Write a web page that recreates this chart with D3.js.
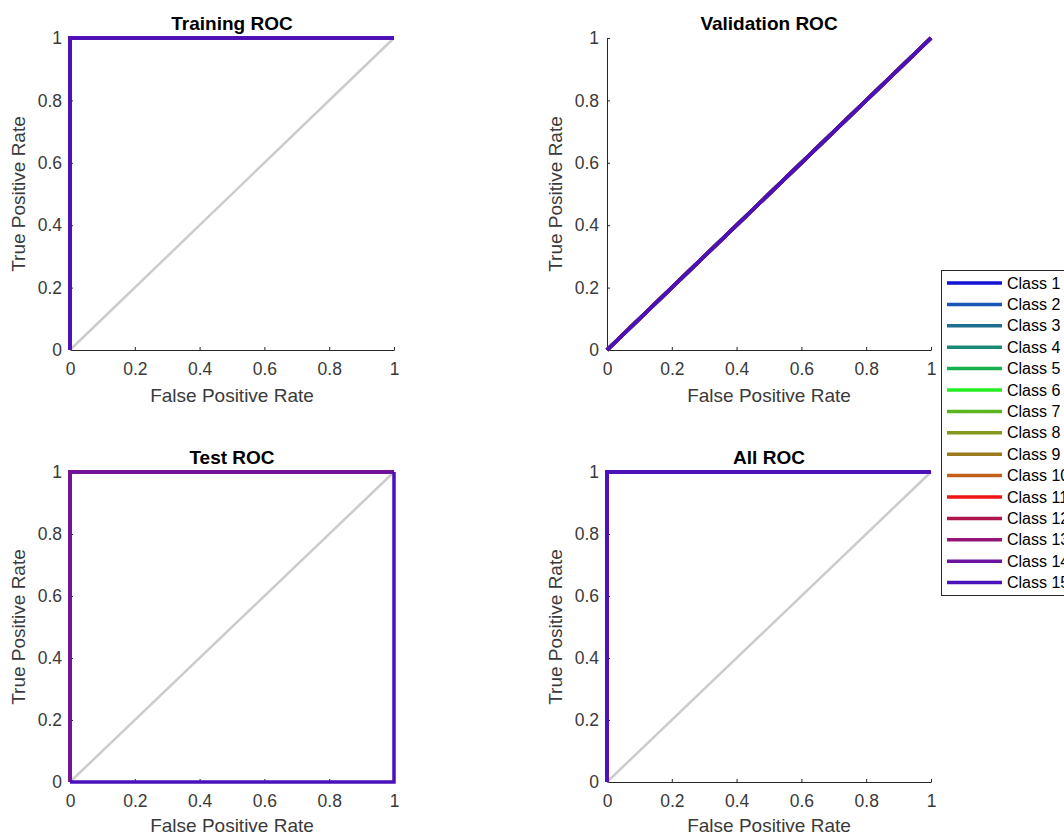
<!DOCTYPE html>
<html>
<head>
<meta charset="utf-8">
<script src="https://cdn.jsdelivr.net/npm/d3@7"></script>
<style>
  body { margin: 0; background: #fff; overflow: hidden; }
  text { font-family: "Liberation Sans", Arial, sans-serif; }
</style>
</head>
<body>
<div id="container"></div>
<script>
// Data
const classNames = ["Class 1", "Class 2", "Class 3", "Class 4", "Class 5", "Class 6", "Class 7", "Class 8",
  "Class 9", "Class 10", "Class 11", "Class 12", "Class 13", "Class 14", "Class 15"];
const classColors = ["#1212d6", "#1a56b6", "#1c6f8e", "#1a8a74", "#16b04c", "#22ee22", "#5cb41e", "#86981c",
  "#9a7a1a", "#c0601a", "#f01414", "#b0144e", "#941478", "#6c14a0", "#4a12bc"];
const panelTitles = ["Training ROC", "Validation ROC", "Test ROC", "All ROC"];
const tickValues = [0, 0.2, 0.4, 0.6, 0.8, 1];

// ROC curve shapes (FPR / TPR points)
const perfectFpr = [0, 0, 1];
const perfectTpr = [0, 1, 1];
const chanceFpr = [0, 1];
const chanceTpr = [0, 1];
const inverseFpr = [0, 1, 1];
const inverseTpr = [0, 0, 1];

// curve per class, one list per panel
const trainingCurves = ["perfect", "perfect", "perfect", "perfect", "perfect", "perfect", "perfect", "perfect",
  "perfect", "perfect", "perfect", "perfect", "perfect", "perfect", "perfect"];
const validationCurves = ["chance", "chance", "chance", "chance", "chance", "chance", "chance", "chance",
  "chance", "chance", "chance", "chance", "chance", "chance", "chance"];
const testCurves = ["perfect", "perfect", "perfect", "perfect", "perfect", "perfect", "perfect", "perfect",
  "perfect", "perfect", "perfect", "perfect", "perfect", "perfect", "inverse"];
const allCurves = ["perfect", "perfect", "perfect", "perfect", "perfect", "perfect", "perfect", "perfect",
  "perfect", "perfect", "perfect", "perfect", "perfect", "perfect", "perfect"];

const shapes = {
  perfect: [perfectFpr, perfectTpr],
  chance: [chanceFpr, chanceTpr],
  inverse: [inverseFpr, inverseTpr],
};
const panelCurves = [trainingCurves, validationCurves, testCurves, allCurves];

// Layout
const width = 1064;
const height = 836;
const boxes = [
  { x0: 70, x1: 394, y0: 38, y1: 350 },
  { x0: 607, x1: 931, y0: 38, y1: 350 },
  { x0: 70, x1: 394, y0: 472, y1: 782 },
  { x0: 607, x1: 931, y0: 472, y1: 782 },
];
const axisColor = "#262626";
const labelColor = "#3a3a3a";

const svg = d3
  .select("#container")
  .append("svg")
  .attr("width", width)
  .attr("height", height);

const line = (xScale, yScale) =>
  d3.line().x((d) => xScale(d[0])).y((d) => yScale(d[1]));

boxes.forEach((b, p) => {
  const xScale = d3.scaleLinear().domain([0, 1]).range([b.x0, b.x1]);
  const yScale = d3.scaleLinear().domain([0, 1]).range([b.y1, b.y0]);
  const g = svg.append("g").attr("class", "panel");

  // Axes (ticks point inward like MATLAB)
  const xAxis = d3.axisBottom(xScale).tickValues(tickValues).tickSizeInner(-3).tickSizeOuter(0)
    .tickPadding(9).tickFormat(d3.format("~g"));
  const yAxis = d3.axisLeft(yScale).tickValues(tickValues).tickSizeInner(-3).tickSizeOuter(0)
    .tickPadding(8).tickFormat(d3.format("~g"));

  const gx = g.append("g").attr("transform", `translate(0,${b.y1})`).call(xAxis);
  const gy = g.append("g").attr("transform", `translate(${b.x0},0)`).call(yAxis);
  [gx, gy].forEach((a) => {
    a.select(".domain").attr("stroke", axisColor).attr("stroke-width", 1);
    a.selectAll(".tick line").attr("stroke", axisColor);
    a.selectAll(".tick text").attr("fill", labelColor).style("font-size", "17.5px");
  });
  gx.selectAll(".tick text").attr("dy", "0.9em");

  // Chance diagonal
  g.append("path")
    .datum([[0, 0], [1, 1]])
    .attr("d", line(xScale, yScale))
    .attr("fill", "none")
    .attr("stroke", "#cccccc")
    .attr("stroke-width", 2.5);

  // Class ROC curves
  panelCurves[p].forEach((kind, i) => {
    const [fpr, tpr] = shapes[kind];
    g.append("path")
      .datum(fpr.map((f, k) => [f, tpr[k]]))
      .attr("d", line(xScale, yScale))
      .attr("fill", "none")
      .attr("stroke", classColors[i])
      .attr("stroke-width", 3.5)
      .attr("stroke-linejoin", "miter");
  });

  // Title and labels
  g.append("text")
    .attr("x", (b.x0 + b.x1) / 2)
    .attr("y", b.y0 - 8)
    .attr("text-anchor", "middle")
    .style("font-size", "19px")
    .style("font-weight", "bold")
    .attr("fill", "#000")
    .text(panelTitles[p]);

  g.append("text")
    .attr("x", (b.x0 + b.x1) / 2)
    .attr("y", Math.min(b.y1 + 52, height - 4))
    .attr("text-anchor", "middle")
    .style("font-size", "19px")
    .attr("fill", labelColor)
    .text("False Positive Rate");

  g.append("text")
    .attr("transform", `translate(${b.x0 - 45},${(b.y0 + b.y1) / 2}) rotate(-90)`)
    .attr("text-anchor", "middle")
    .style("font-size", "19px")
    .attr("fill", labelColor)
    .text("True Positive Rate");
});

// Legend (runs past the right edge, as in the reference)
const legend = svg.append("g").attr("id", "legend");
const rowY = d3.scaleLinear().domain([0, 14]).range([283, 582.6]);

legend
  .append("rect")
  .attr("x", 941.5)
  .attr("y", 270.5)
  .attr("width", 150)
  .attr("height", 325)
  .attr("fill", "#fff")
  .attr("stroke", "#262626")
  .attr("stroke-width", 1);

legend
  .selectAll("line.key")
  .data(classNames)
  .enter()
  .append("line")
  .attr("class", "key")
  .attr("x1", 947)
  .attr("x2", 1002)
  .attr("y1", (d, i) => rowY(i))
  .attr("y2", (d, i) => rowY(i))
  .attr("stroke", (d, i) => classColors[i])
  .attr("stroke-width", 3.5);

legend
  .selectAll("text")
  .data(classNames)
  .enter()
  .append("text")
  .attr("x", 1007)
  .attr("y", (d, i) => rowY(i))
  .attr("dy", "0.35em")
  .style("font-size", "16px")
  .attr("fill", "#000")
  .text((d) => d);
</script>
</body>
</html>
